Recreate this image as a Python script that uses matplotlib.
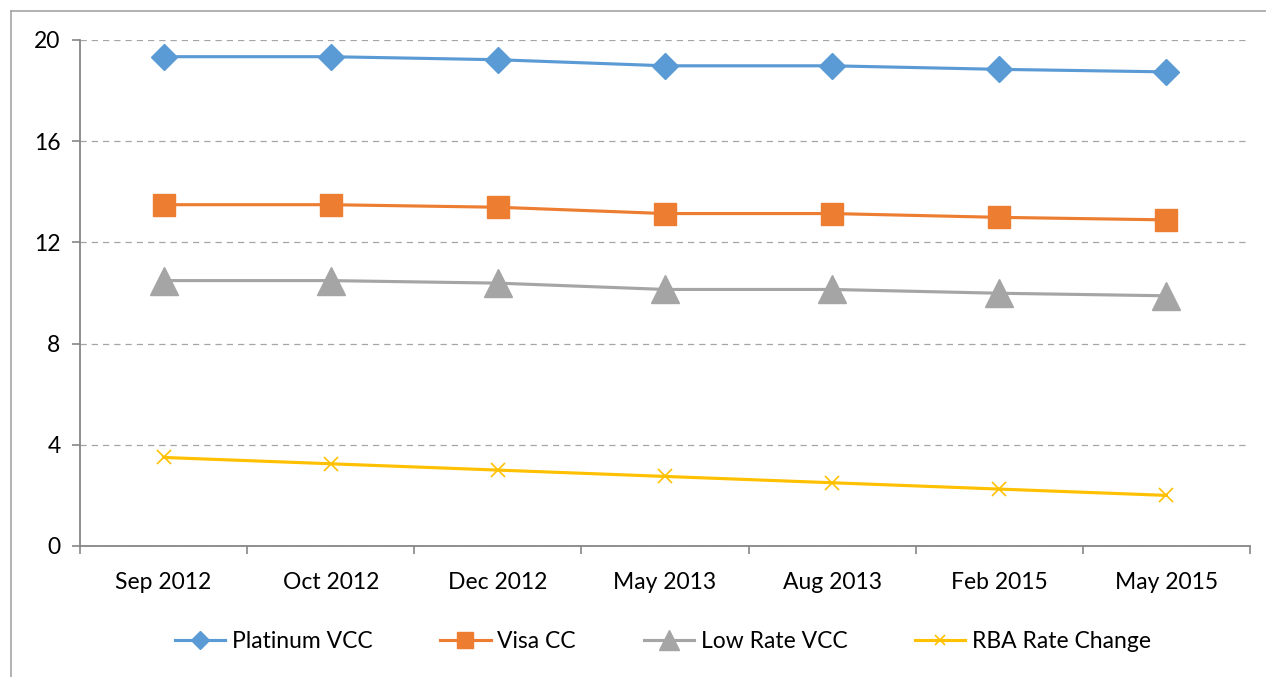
import matplotlib
matplotlib.use('Agg')
import matplotlib.pyplot as plt
from matplotlib.lines import Line2D

# values
dates = ['Sep 2012', 'Oct 2012', 'Dec 2012', 'May 2013', 'Aug 2013', 'Feb 2015', 'May 2015']
platinum_vcc = [19.34, 19.34, 19.22, 18.98, 18.98, 18.84, 18.74]
visa_cc = [13.49, 13.49, 13.39, 13.14, 13.14, 12.99, 12.89]
low_rate_vcc = [10.49, 10.49, 10.39, 10.14, 10.14, 9.99, 9.89]
rba_rate = [3.50, 3.25, 3.00, 2.75, 2.50, 2.25, 2.00]
y_ticks = [0, 4, 8, 12, 16, 20]

plt.rcParams['font.family'] = ['Lato', 'DejaVu Sans']

W, H = 1266, 677
fig = plt.figure(figsize=(W / 100, H / 100), dpi=100)
ax = fig.add_axes([80 / W, (H - 546) / H, (1250 - 80) / W, (546 - 40) / H])

x = range(len(dates))
ax.plot(x, platinum_vcc, color='#5B9BD5', lw=2.25, marker='D', ms=13.5, label='Platinum VCC')
ax.plot(x, visa_cc, color='#ED7D31', lw=2.25, marker='s', ms=16, label='Visa CC')
ax.plot(x, low_rate_vcc, color='#A5A5A5', lw=2.25, marker='^', ms=20, label='Low Rate VCC')
ax.plot(x, rba_rate, color='#FFC000', lw=2.25, marker='x', ms=10, mew=1.2, label='RBA Rate Change')

ax.set_xlim(-0.5, len(dates) - 0.5)
ax.set_ylim(0, 20)
ax.set_yticks(y_ticks)
ax.set_xticks(list(x))
ax.set_xticklabels(dates)
ax.set_xticks([i - 0.5 for i in range(len(dates) + 1)], minor=True)
ax.tick_params(axis='x', which='major', length=0, pad=19, labelsize=16.5)
ax.tick_params(axis='x', which='minor', length=6, width=1.2, color='#868686', direction='out')
ax.tick_params(axis='y', length=6, width=1.2, color='#868686', pad=8, labelsize=16.5)

ax.yaxis.grid(True, color='#a6a6a6', ls=(0, (5, 4)), lw=0.9)
ax.set_axisbelow(True)
for s in ['top', 'right']:
    ax.spines[s].set_visible(False)
for s in ['left', 'bottom']:
    ax.spines[s].set_color('#868686')
    ax.spines[s].set_linewidth(1.3)

fig.legend(loc='center', bbox_to_anchor=(663 / W, 1 - 642 / H), ncol=4, frameon=False,
           fontsize=16.5, handlelength=2.2, columnspacing=2.95, handletextpad=0.3,
           markerscale=0.7)

# outer chart border (top and left visible)
fig.add_artist(Line2D([11 / W, 11 / W], [0, 1 - 11 / H], color='#a6a6a6', lw=1.2))
fig.add_artist(Line2D([11 / W, 1], [1 - 11 / H, 1 - 11 / H], color='#a6a6a6', lw=1.2))

fig.savefig('out.png', dpi=100)
